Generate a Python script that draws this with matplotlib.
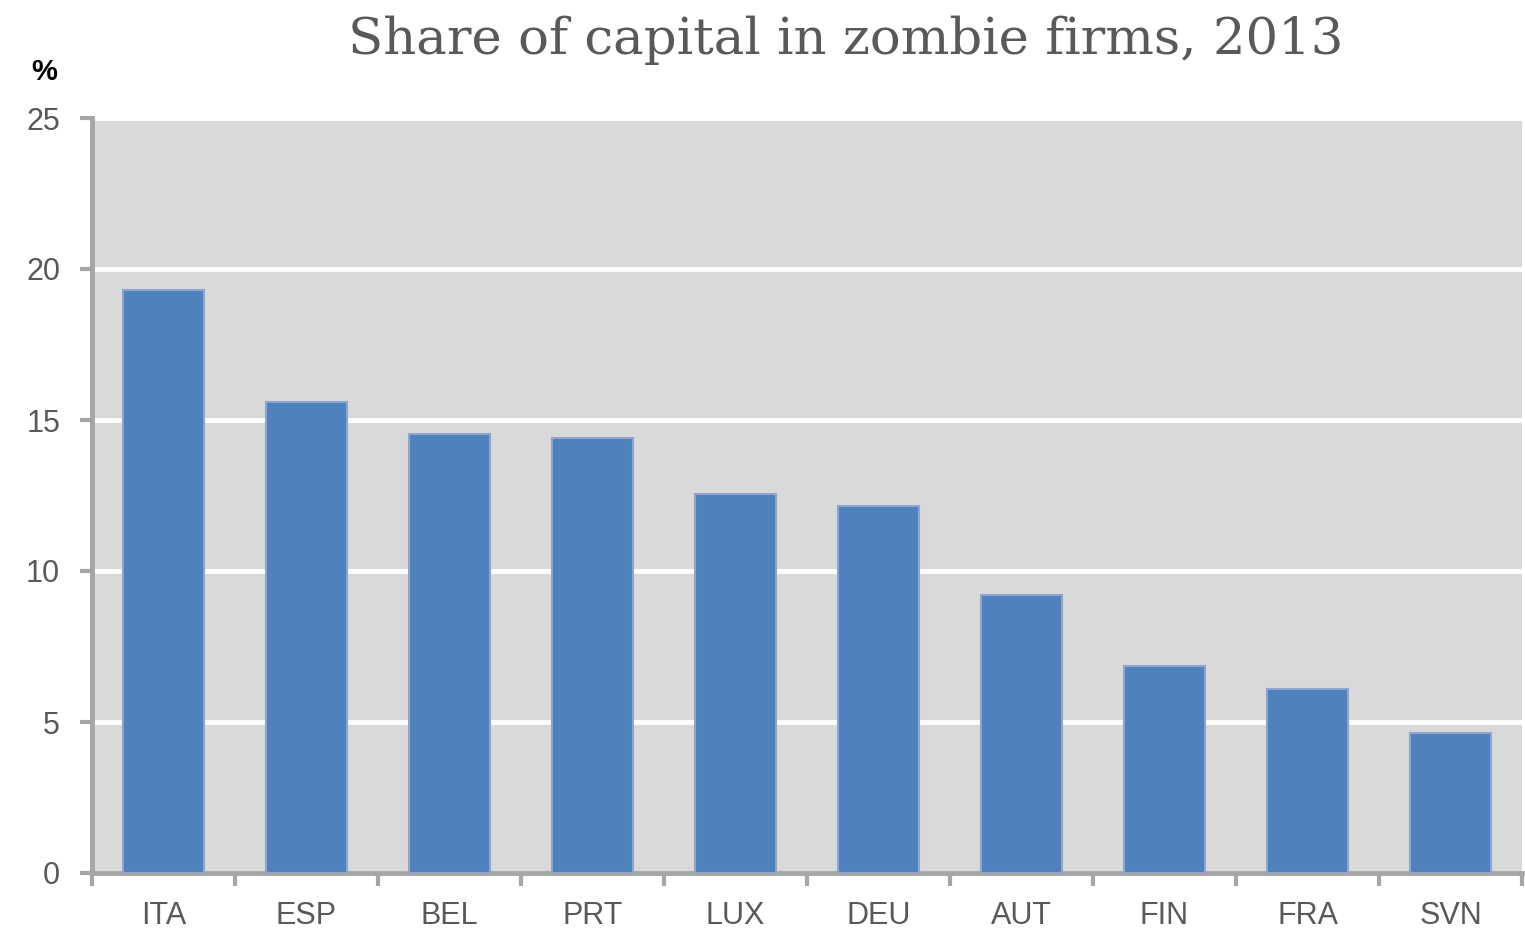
import matplotlib.pyplot as plt

# Data
countries = ['ITA', 'ESP', 'BEL', 'PRT', 'LUX', 'DEU', 'AUT', 'FIN', 'FRA', 'SVN']
share = [19.3, 15.6, 14.55, 14.4, 12.55, 12.15, 9.2, 6.85, 6.1, 4.65]
yticks = [0, 5, 10, 15, 20, 25]

plt.rcParams['font.family'] = ['Liberation Sans', 'DejaVu Sans']

fig = plt.figure(figsize=(15.25, 9.32), dpi=100)
ax = fig.add_axes([92 / 1525, 1 - 873 / 932, (1522 - 92) / 1525, (873 - 118) / 932])

ax.set_facecolor('#d9d9d9')
ax.bar(range(len(countries)), share, width=0.56, color='#4f81bd',
       edgecolor='#8ca6cf', linewidth=1.5, zorder=3)

ax.set_xlim(-0.5, len(countries) - 0.5)
ax.set_ylim(0, 25)
ax.set_yticks(yticks)
ax.set_yticklabels([str(t) for t in yticks])
ax.yaxis.grid(True, color='white', linewidth=3.5, zorder=1)
ax.set_axisbelow(True)

ax.set_xticks([i - 0.5 for i in range(len(countries) + 1)])
ax.set_xticklabels([])
ax.set_xticks(range(len(countries)), minor=True)
ax.set_xticklabels(countries, minor=True)
ax.tick_params(axis='x', which='minor', length=0, pad=20, labelsize=22, labelcolor='#595959')
ax.tick_params(axis='x', which='major', length=9, width=3, color='#a6a6a6')
ax.tick_params(axis='y', length=9, width=3, color='#a6a6a6', labelsize=22,
               labelcolor='#595959', pad=14)

for side in ['top', 'right']:
    ax.spines[side].set_visible(False)
for side in ['left', 'bottom']:
    ax.spines[side].set_color('#a6a6a6')
    ax.spines[side].set_linewidth(3.5)

fig.text(846 / 1525, 1 - 40 / 932, 'Share of capital in zombie firms, 2013',
         ha='center', va='center', fontsize=37, color='#595959', family='DejaVu Serif')
fig.text(44 / 1525, 1 - 72 / 932, '%', ha='center', va='center', fontsize=21,
         fontweight='bold', color='black')

fig.savefig('out.png', dpi=100)
